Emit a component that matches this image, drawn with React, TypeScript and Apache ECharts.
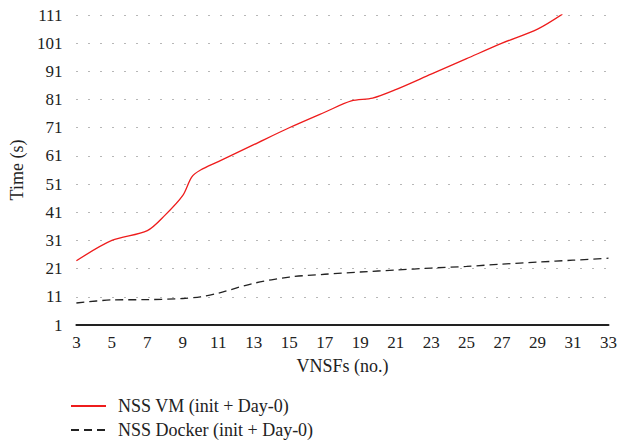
import React, { useEffect, useRef } from "react";
import * as echarts from "echarts";

const vmData: [number, number][] = [
  [3, 23.8], [5, 31], [7, 34.5], [8, 40], [9, 47], [9.5, 53.5], [10, 56], [11, 59],
  [13, 65], [15, 71], [17, 76.5], [18.5, 80.5], [19.7, 81.5], [21, 84.5], [23, 90],
  [25, 95.5], [27, 101], [29, 106], [30.4, 111.3],
];
const dockerData: [number, number][] = [
  [3, 8.8], [5, 9.9], [7, 10], [9, 10.4], [10, 11], [11, 12.3], [13, 15.8], [15, 18],
  [17, 19], [19, 19.8], [21, 20.5], [23, 21.2], [25, 21.8], [27, 22.6], [29, 23.3],
  [31, 24], [33, 24.7],
];
const seriesNames = ["NSS VM (init + Day-0)", "NSS Docker (init + Day-0)"];

const FONT = "Liberation Serif";
const FS = 17;
const FS_TEXT = 18;

export default function App() {
  const ref = useRef<HTMLDivElement>(null);
  useEffect(() => {
    if (!ref.current) return;
    const chart = echarts.init(ref.current, null, { renderer: "svg" });
    chart.setOption({
      animation: false,
      textStyle: { fontFamily: FONT },
      grid: { left: 72, right: 9, top: 15, bottom: 120 },
      xAxis: {
        type: "value",
        min: 3,
        max: 33,
        interval: 2,
        name: "VNSFs (no.)",
        nameLocation: "middle",
        nameGap: 32,
        nameTextStyle: { fontFamily: FONT, fontSize: FS_TEXT, color: "#222" },
        axisLine: { show: true, lineStyle: { color: "#222", width: 2 } },
        axisTick: { show: false },
        axisLabel: {
          fontFamily: FONT,
          fontSize: FS,
          color: "#222",
          margin: 9,
          showMaxLabel: true,
          showMinLabel: true,
        },
        splitLine: { show: false },
      },
      yAxis: {
        type: "value",
        min: 1,
        max: 111,
        interval: 10,
        name: "Time (s)",
        nameLocation: "middle",
        nameGap: 46,
        nameTextStyle: { fontFamily: FONT, fontSize: FS_TEXT, color: "#222" },
        axisLine: { show: false },
        axisTick: { show: false },
        axisLabel: { fontFamily: FONT, fontSize: FS, color: "#222", margin: 14 },
        splitLine: {
          show: true,
          lineStyle: { color: "#888", width: 1.2, type: [1.2, 10.8] },
        },
      },
      legend: {
        orient: "vertical",
        left: 70,
        top: 397,
        padding: 0,
        itemGap: 6,
        itemWidth: 35,
        itemHeight: 19,
        itemStyle: { opacity: 0 },
        textStyle: { fontFamily: FONT, fontSize: FS_TEXT, color: "#222", padding: [0, 0, 0, 7] },
        data: seriesNames,
      },
      series: [
        {
          name: seriesNames[0],
          type: "line",
          data: vmData,
          smooth: 0.3,
          symbol: "none",
          lineStyle: { color: "#ee1c1c", width: 1.3 },
          itemStyle: { color: "#ee1c1c" },
        },
        {
          name: seriesNames[1],
          type: "line",
          data: dockerData,
          smooth: 0.3,
          symbol: "none",
          lineStyle: { color: "#222", width: 1.3, type: [8, 5] },
          itemStyle: { color: "#222" },
        },
      ],
    });
    return () => chart.dispose();
  }, []);
  return (
    <div
      ref={ref}
      style={{ position: "absolute", left: 0, top: 0, width: 620, height: 445 }}
    />
  );
}
